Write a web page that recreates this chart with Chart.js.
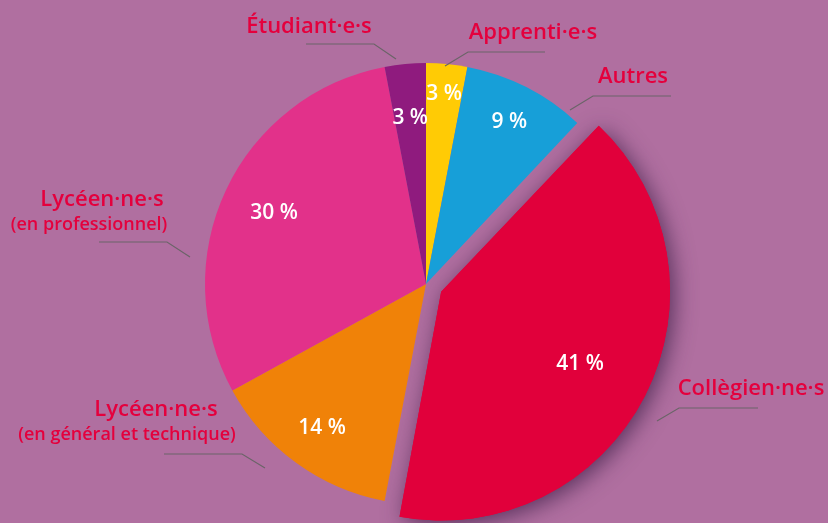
<!DOCTYPE html>
<html>
<head>
<meta charset="utf-8">
<script src="https://cdn.jsdelivr.net/npm/chart.js@4/dist/chart.umd.min.js"></script>
<style>
  html, body { margin: 0; padding: 0; background: #b06fa0; }
  #wrap { width: 828px; height: 523px; position: relative; }
  canvas { display: block; }
</style>
</head>
<body>
<div id="wrap"><canvas id="c" width="828" height="523"></canvas></div>
<script>
// ---- data ----
const categories = [
  ['Apprenti·e·s'],
  ['Autres'],
  ['Collègien·ne·s'],
  ['Lycéen·ne·s', '(en général et technique)'],
  ['Lycéen·ne·s', '(en professionnel)'],
  ['Étudiant·e·s']
];
const shares = [3, 9, 41, 14, 30, 3];
const valueLabels = ['3 %', '9 %', '41 %', '14 %', '30 %', '3 %'];

// ---- styles ----
const sliceColors = ['#ffcb05', '#179fd8', '#e1003b', '#f08208', '#e2318a', '#8f1b7e'];
const sliceOffsets = [0, 0, 68, 0, 0, 0];
const valueRadius = [0.87, 0.83, 0.67, 0.80, 0.76, 0.76];

// annotation placement (text positions and leader lines)
const annotations = [
  { lines: [[533, 39]], leader: [[545, 52], [468, 52], [445, 66]] },
  { lines: [[633, 83]], leader: [[671, 96], [593, 96], [570, 110]] },
  { lines: [[751, 395]], leader: [[758, 408], [679, 408], [657, 421]] },
  { lines: [[156, 416], [127, 440]], leader: [[164, 454], [242, 454], [265, 468]] },
  { lines: [[102, 206], [89, 230]], leader: [[99, 242], [167, 242], [190, 257]] },
  { lines: [[309, 33]], leader: [[306, 44], [374, 44], [396, 59]] }
];

const shadowPlugin = {
  id: 'shadow',
  beforeDatasetsDraw(chart) {
    const ctx = chart.ctx;
    const meta = chart.getDatasetMeta(0);
    const el = meta.data[2];
    if (!el) return;
    ctx.save();
    ctx.shadowColor = 'rgba(60, 30, 70, 0.75)';
    ctx.shadowBlur = 22;
    ctx.shadowOffsetX = 4;
    ctx.shadowOffsetY = 4;
    el.draw(ctx);
    ctx.restore();
  }
};

const labelPlugin = {
  id: 'labels',
  afterDatasetsDraw(chart) {
    const ctx = chart.ctx;
    const meta = chart.getDatasetMeta(0);
    ctx.save();
    // value labels
    ctx.fillStyle = '#ffffff';
    ctx.font = '600 21px "Open Sans", sans-serif';
    ctx.textAlign = 'center';
    ctx.textBaseline = 'middle';
    meta.data.forEach((el, i) => {
      const p = el.getProps(['x', 'y', 'startAngle', 'endAngle', 'outerRadius', 'circumference'], true);
      const mid = (p.startAngle + p.endAngle) / 2;
      const off = (sliceOffsets[i] || 0) / 4;
      const fix = 1 - Math.sin(Math.min(Math.PI, p.circumference || 0));
      const shift = off + off * fix;
      const cx = p.x + Math.cos(mid) * shift;
      const cy = p.y + Math.sin(mid) * shift;
      const r = p.outerRadius * valueRadius[i];
      ctx.fillText(valueLabels[i], cx + Math.cos(mid) * r, cy + Math.sin(mid) * r + 1);
    });
    // category labels and leaders
    ctx.strokeStyle = '#6b6468';
    ctx.lineWidth = 1.2;
    ctx.fillStyle = '#e4003d';
    ctx.textBaseline = 'alphabetic';
    annotations.forEach((a, i) => {
      ctx.beginPath();
      a.leader.forEach((pt, k) => k ? ctx.lineTo(pt[0], pt[1]) : ctx.moveTo(pt[0], pt[1]));
      ctx.stroke();
      a.lines.forEach((pos, k) => {
        ctx.font = (k === 0 ? '600 22px' : '600 18px') + ' "Open Sans", sans-serif';
        ctx.fillText(categories[i][k], pos[0], pos[1]);
      });
    });
    ctx.restore();
  }
};

new Chart(document.getElementById('c'), {
  type: 'pie',
  data: {
    labels: categories.map(c => c.join(' ')),
    datasets: [{
      data: shares,
      backgroundColor: sliceColors,
      borderWidth: 0,
      offset: sliceOffsets,
      hoverOffset: 0
    }]
  },
  options: {
    responsive: false,
    animation: false,
    events: [],
    radius: 221,
    layout: { padding: { left: 24, right: 0, top: 45, bottom: 0 } },
    plugins: {
      legend: { display: false },
      tooltip: { enabled: false }
    }
  },
  plugins: [shadowPlugin, labelPlugin]
});
</script>
</body>
</html>
